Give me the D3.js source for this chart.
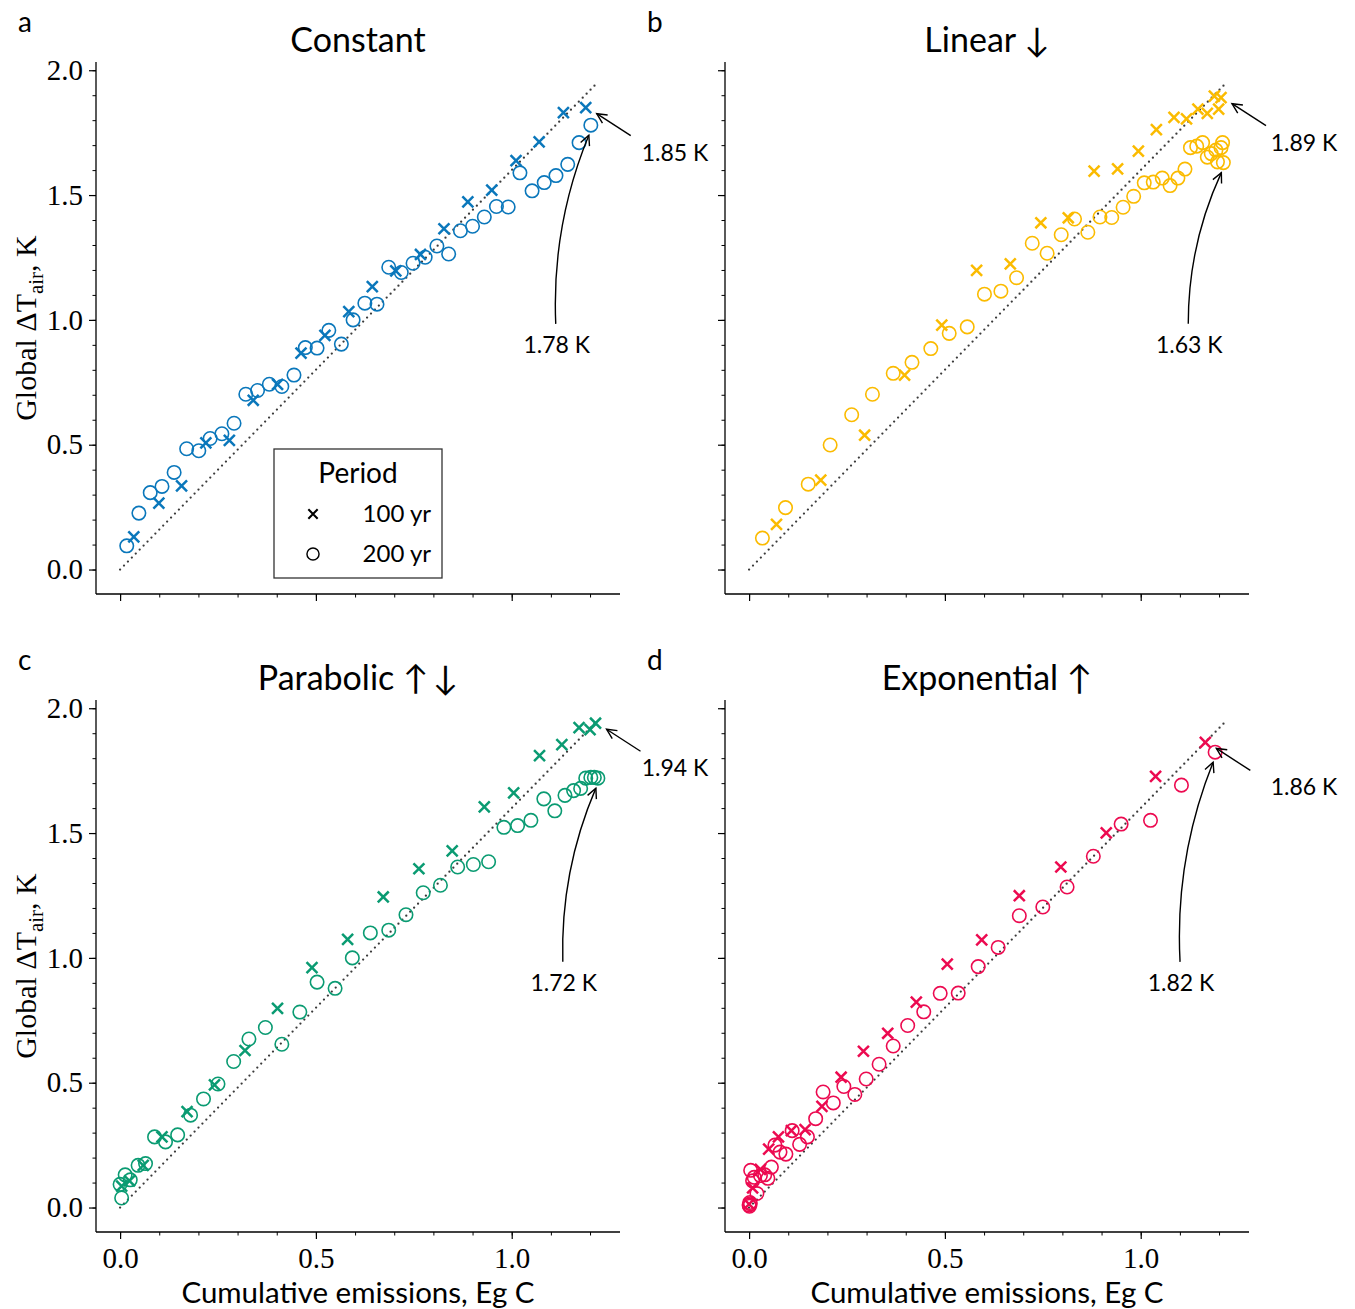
<!DOCTYPE html>
<html>
<head>
<meta charset="utf-8">
<script src="https://cdn.jsdelivr.net/npm/d3@7"></script>
<style>
  body { margin: 0; background: #fff; }
  svg { display: block; }
  .sans { font-family: Lato, "Noto Sans", "DejaVu Sans", sans-serif; }
  .serif { font-family: "Liberation Serif", "DejaVu Serif", serif; }
</style>
</head>
<body>
<div id="chart"></div>
<script>
// ---- data (cumulative emissions Eg C, global dT K) ----
var constant100x = [0.035,0.099,0.157,0.219,0.279,0.340,0.402,0.462,0.523,0.584,0.644,0.704,0.767,0.827,0.888,0.949,1.011,1.070,1.132,1.189];
var constant100y = [0.131,0.266,0.335,0.507,0.517,0.678,0.742,0.867,0.938,1.033,1.133,1.196,1.262,1.365,1.473,1.520,1.638,1.713,1.830,1.85];
var constant200x = [0.017,0.048,0.077,0.107,0.138,0.170,0.201,0.230,0.260,0.291,0.321,0.351,0.381,0.413,0.444,0.473,0.503,0.533,0.565,0.595,0.625,0.656,0.686,0.718,0.748,0.779,0.809,0.839,0.869,0.900,0.930,0.961,0.991,1.021,1.052,1.083,1.113,1.143,1.172,1.202];
var constant200y = [0.095,0.226,0.308,0.333,0.389,0.484,0.476,0.525,0.544,0.586,0.702,0.717,0.742,0.733,0.779,0.889,0.887,0.958,0.903,1.000,1.067,1.063,1.211,1.190,1.227,1.251,1.296,1.264,1.357,1.375,1.412,1.454,1.452,1.589,1.517,1.550,1.578,1.623,1.710,1.78];

var linear100x = [0.070,0.183,0.295,0.397,0.492,0.581,0.667,0.745,0.815,0.881,0.941,0.994,1.040,1.085,1.117,1.146,1.170,1.188,1.199,1.205];
var linear100y = [0.181,0.358,0.538,0.779,0.979,1.198,1.224,1.389,1.409,1.596,1.605,1.676,1.762,1.811,1.805,1.844,1.827,1.896,1.844,1.89];
var linear200x = [0.034,0.093,0.151,0.207,0.262,0.315,0.368,0.416,0.464,0.511,0.557,0.601,0.643,0.683,0.723,0.761,0.797,0.831,0.865,0.896,0.926,0.955,0.982,1.009,1.032,1.055,1.075,1.095,1.113,1.127,1.143,1.158,1.170,1.180,1.192,1.196,1.205,1.209,1.211];
var linear200y = [0.126,0.248,0.342,0.499,0.620,0.702,0.786,0.830,0.885,0.946,0.972,1.103,1.115,1.169,1.307,1.267,1.341,1.404,1.351,1.412,1.410,1.451,1.495,1.549,1.552,1.568,1.538,1.568,1.604,1.690,1.696,1.710,1.652,1.666,1.680,1.633,1.690,1.710,1.63];

var parabolic100x = [0.004,0.024,0.059,0.107,0.171,0.241,0.319,0.402,0.490,0.581,0.672,0.763,0.848,0.930,1.005,1.071,1.128,1.172,1.200,1.214];
var parabolic100y = [0.086,0.107,0.169,0.283,0.384,0.491,0.629,0.798,0.961,1.074,1.244,1.357,1.429,1.605,1.661,1.810,1.854,1.922,1.914,1.94];
var parabolic200x = [0.004,0.000,0.013,0.026,0.046,0.065,0.088,0.116,0.147,0.180,0.213,0.250,0.290,0.329,0.371,0.413,0.459,0.503,0.549,0.593,0.639,0.686,0.730,0.774,0.818,0.862,0.902,0.941,0.980,1.015,1.049,1.082,1.110,1.136,1.158,1.176,1.189,1.202,1.211,1.220];
var parabolic200y = [0.038,0.093,0.131,0.111,0.169,0.176,0.283,0.263,0.291,0.370,0.435,0.495,0.585,0.675,0.721,0.654,0.783,0.903,0.878,1.000,1.100,1.111,1.173,1.261,1.291,1.364,1.374,1.385,1.523,1.530,1.551,1.637,1.589,1.651,1.670,1.679,1.720,1.723,1.723,1.72];

var exponential100x = [0.000,0.009,0.029,0.050,0.075,0.108,0.143,0.186,0.235,0.292,0.354,0.427,0.506,0.594,0.690,0.796,0.912,1.038,1.165];
var exponential100y = [0.014,0.079,0.153,0.234,0.283,0.308,0.312,0.405,0.522,0.626,0.698,0.823,0.975,1.072,1.249,1.364,1.501,1.727,1.863];
var exponential200x = [0.000,0.001,0.002,0.003,0.004,0.009,0.013,0.020,0.029,0.040,0.048,0.057,0.066,0.079,0.094,0.110,0.129,0.149,0.170,0.189,0.215,0.242,0.270,0.299,0.332,0.368,0.405,0.446,0.488,0.534,0.585,0.636,0.690,0.750,0.812,0.879,0.950,1.025,1.104,1.190];
var exponential200y = [0.010,0.005,0.020,0.015,0.149,0.107,0.121,0.056,0.128,0.131,0.117,0.162,0.250,0.222,0.214,0.308,0.253,0.283,0.356,0.463,0.419,0.485,0.453,0.515,0.574,0.647,0.729,0.784,0.858,0.859,0.965,1.042,1.169,1.204,1.284,1.407,1.536,1.551,1.692,1.824];

// 1:1 reference (dotted)
var refX = [0, 1.215];
var refY = [0, 1.944];

var panelLetters = ['a', 'b', 'c', 'd'];
var panelTitles = ['Constant', 'Linear \u2193', 'Parabolic \u2191\u2009\u2193', 'Exponential \u2191'];
var panelColors = ['#0a77bb', '#fbbb00', '#0a9b72', '#ec0a50'];
var yTicks = [0, 0.5, 1.0, 1.5, 2.0];
var xTicks = [0, 0.5, 1.0];
var periodLabels = ['100 yr', '200 yr'];

var panels = [
  {x100: constant100x, y100: constant100y, x200: constant200x, y200: constant200y},
  {x100: linear100x, y100: linear100y, x200: linear200x, y200: linear200y},
  {x100: parabolic100x, y100: parabolic100y, x200: parabolic200x, y200: parabolic200y},
  {x100: exponential100x, y100: exponential100y, x200: exponential200x, y200: exponential200y}
];

// ---- layout ----
var W = 1355, H = 1309;
var pw = 524, ph = 532;
var lefts = [96, 725, 96, 725];
var tops = [62, 62, 700, 700];

var svg = d3.select('#chart').append('svg')
  .attr('width', W).attr('height', H);

var x = d3.scaleLinear().domain([-0.0615, 1.2765]).range([0, pw]);
var y = d3.scaleLinear().domain([-0.098, 2.033]).range([ph, 0]);

var crossPath = d3.symbol().type(d3.symbolX).size(80)();
var circlePath = d3.symbol().type(d3.symbolCircle).size(142)();

var fmt = d3.format('.2f');

panels.forEach(function(p, i) {
  var col = panelColors[i];
  var g = svg.append('g').attr('transform', 'translate(' + lefts[i] + ',' + tops[i] + ')');
  var showY = (i % 2 === 0);
  var showX = (i >= 2);

  // minor ticks
  g.append('g').attr('transform', 'translate(0,' + ph + ')')
    .call(d3.axisBottom(x).tickValues(d3.range(0, 1.21, 0.1)).tickSize(3.5).tickFormat(''))
    .call(function(a) { a.select('.domain').remove(); });
  g.append('g')
    .call(d3.axisLeft(y).tickValues(d3.range(0, 2.01, 0.1)).tickSize(3.5).tickFormat(''))
    .call(function(a) { a.select('.domain').remove(); });

  // major axes
  var xa = g.append('g').attr('transform', 'translate(0,' + ph + ')')
    .call(d3.axisBottom(x).tickValues(xTicks).tickSize(7).tickPadding(8)
      .tickFormat(showX ? d3.format('.1f') : ''));
  var ya = g.append('g')
    .call(d3.axisLeft(y).tickValues(yTicks).tickSize(7).tickPadding(6)
      .tickFormat(showY ? d3.format('.1f') : ''));
  [xa, ya].forEach(function(a) {
    a.selectAll('path.domain').attr('d', null);
    a.selectAll('line').attr('stroke', '#000').attr('stroke-width', 1.2);
    a.selectAll('text').attr('class', 'serif').attr('font-size', 29).attr('fill', '#000');
  });
  // spines
  g.append('line').attr('x1', 0).attr('x2', 0).attr('y1', 0).attr('y2', ph)
    .attr('stroke', '#000').attr('stroke-width', 1.3);
  g.append('line').attr('x1', 0).attr('x2', pw).attr('y1', ph).attr('y2', ph)
    .attr('stroke', '#000').attr('stroke-width', 1.3);

  // reference line
  g.append('line')
    .attr('x1', x(refX[0])).attr('y1', y(refY[0]))
    .attr('x2', x(refX[1])).attr('y2', y(refY[1]))
    .attr('stroke', '#3a3a3a').attr('stroke-width', 2.3)
    .attr('stroke-linecap', 'round').attr('stroke-dasharray', '0,5.6');

  // 100 yr crosses
  g.append('g').selectAll('path').data(p.x100).enter().append('path')
    .attr('d', crossPath)
    .attr('transform', function(d, k) { return 'translate(' + x(d) + ',' + y(p.y100[k]) + ')'; })
    .attr('fill', 'none').attr('stroke', col).attr('stroke-width', 2.5);

  // 200 yr circles
  g.append('g').selectAll('path').data(p.x200).enter().append('path')
    .attr('d', circlePath)
    .attr('transform', function(d, k) { return 'translate(' + x(d) + ',' + y(p.y200[k]) + ')'; })
    .attr('fill', 'none').attr('stroke', col).attr('stroke-width', 1.6);

  // annotations
  var n1 = p.x100.length - 1, n2 = p.x200.length - 1;
  var px1 = x(p.x100[n1]), py1 = y(p.y100[n1]);
  var px2 = x(p.x200[n2]), py2 = y(p.y200[n2]);

  // straight arrow to 100 yr end value
  drawArrow(g, [px1 + 45, py1 + 28], null, [px1 + 11, py1 + 6]);
  g.append('text').attr('class', 'sans')
    .attr('x', x(1.417)).attr('y', py1 + 53)
    .attr('text-anchor', 'middle').attr('font-size', 23)
    .text(fmt(p.y100[n1]) + ' K');

  // curved arrow to 200 yr end value
  var lx = x(p.x200[n2] - 0.087), ly = y(0.9);
  var s = [lx - 1, ly - 21];
  var e = [px2 - 2, py2 + 10];
  var m = [(s[0] + e[0]) / 2, (s[1] + e[1]) / 2];
  var dx = e[0] - s[0], dy = e[1] - s[1];
  var c = [m[0] + 0.11 * dy, m[1] - 0.11 * dx];
  drawArrow(g, s, c, e);
  g.append('text').attr('class', 'sans')
    .attr('x', lx).attr('y', ly + 8)
    .attr('text-anchor', 'middle').attr('font-size', 23)
    .text(fmt(p.y200[n2]) + ' K');

  // title and panel letter
  g.append('text').attr('class', 'sans')
    .attr('x', pw / 2).attr('y', -10)
    .attr('text-anchor', 'middle').attr('font-size', 34)
    .text(panelTitles[i]);
  g.append('text').attr('class', 'sans')
    .attr('x', -78).attr('y', -30)
    .attr('font-size', 28)
    .text(panelLetters[i]);

  if (showY) {
    var yl = g.append('text').attr('class', 'serif')
      .attr('transform', 'translate(' + (-60) + ',' + (ph / 2) + ') rotate(-90)')
      .attr('text-anchor', 'middle').attr('font-size', 30);
    yl.append('tspan').text('Global \u0394T');
    yl.append('tspan').attr('font-size', 21).attr('dy', 7).text('air');
    yl.append('tspan').attr('dy', -7).text(', K');
  }
  if (showX) {
    g.append('text').attr('class', 'sans')
      .attr('x', pw / 2).attr('y', ph + 71)
      .attr('text-anchor', 'middle').attr('font-size', 29.5)
      .text('Cumulative emissions, Eg C');
  }

  // legend only in panel a
  if (i === 0) {
    var lg = g.append('g').attr('transform', 'translate(178,387)');
    lg.append('rect').attr('width', 168).attr('height', 129)
      .attr('fill', '#fff').attr('stroke', '#333').attr('stroke-width', 1.3);
    lg.append('text').attr('class', 'sans').attr('x', 84).attr('y', 34)
      .attr('text-anchor', 'middle').attr('font-size', 28).text('Period');
    [crossPath, circlePath].forEach(function(sym, k) {
      lg.append('path').attr('d', sym)
        .attr('transform', 'translate(39,' + (65 + 40 * k) + ')' + (k === 0 ? ' scale(0.85)' : ' scale(0.9)'))
        .attr('fill', 'none').attr('stroke', '#000').attr('stroke-width', k === 0 ? 2.4 : 1.6);
      lg.append('text').attr('class', 'sans').attr('x', 157).attr('y', 73 + 40 * k)
        .attr('text-anchor', 'end').attr('font-size', 24).text(periodLabels[k]);
    });
  }
});

// open arrow, straight or quadratic curve
function drawArrow(g, s, c, e) {
  var d = 'M' + s[0] + ',' + s[1] + (c ? 'Q' + c[0] + ',' + c[1] + ' ' : 'L') + e[0] + ',' + e[1];
  g.append('path').attr('d', d).attr('fill', 'none')
    .attr('stroke', '#000').attr('stroke-width', 1.4);
  var from = c || s;
  var ang = Math.atan2(e[1] - from[1], e[0] - from[0]);
  var len = 11, spread = 0.45;
  var head = 'M' + (e[0] - len * Math.cos(ang - spread)) + ',' + (e[1] - len * Math.sin(ang - spread)) +
    'L' + e[0] + ',' + e[1] +
    'L' + (e[0] - len * Math.cos(ang + spread)) + ',' + (e[1] - len * Math.sin(ang + spread));
  g.append('path').attr('d', head).attr('fill', 'none')
    .attr('stroke', '#000').attr('stroke-width', 1.4);
}
</script>
</body>
</html>
